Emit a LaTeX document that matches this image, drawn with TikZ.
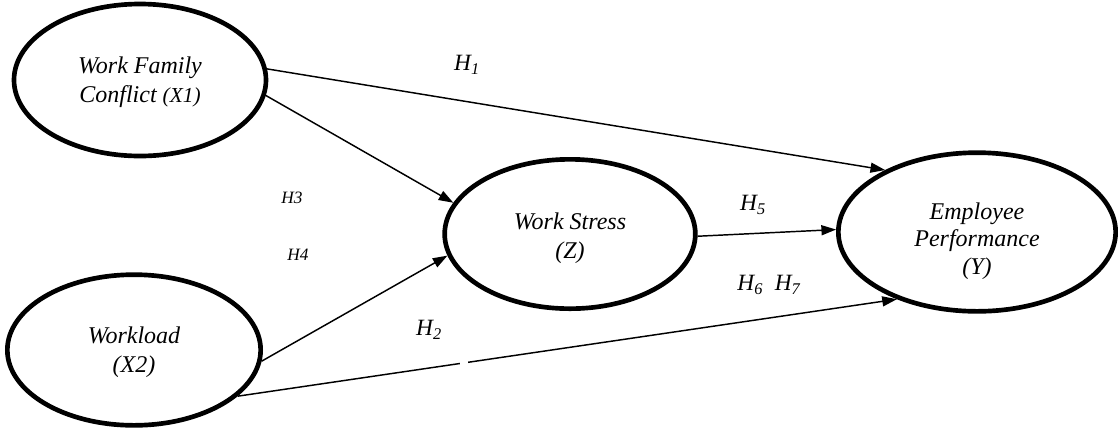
\documentclass[tikz,border=0pt]{standalone}
\usepackage{fontspec}
\setmainfont{Liberation Serif}
\usetikzlibrary{arrows.meta,shapes.geometric}
\newcommand{\hyp}[1]{\textit{H\textsubscript{#1}}}

\begin{document}
\begin{tikzpicture}[x=0.75pt,y=-0.75pt,>={Triangle[length=11pt,width=7.5pt]},
  latent/.style={ellipse,draw,line width=3.5pt},
  ltext/.style={align=center,font=\fontsize{18}{22}\selectfont\itshape},
  path/.style={->,line width=1.1pt},
  hlab/.style={font=\fontsize{17.5}{20}\selectfont},
  slab/.style={font=\fontsize{13}{15}\selectfont\itshape}]
\useasboundingbox (0,0) rectangle (1118,430);
\node[latent,minimum width=189pt,minimum height=114pt] (x1) at (140,80) {};
\node[latent,minimum width=190pt,minimum height=113pt] (x2) at (134,350) {};
\node[latent,minimum width=188pt,minimum height=112pt] (z) at (570,234) {};
\node[latent,minimum width=208pt,minimum height=119pt] (y) at (977,232) {};
\node[ltext] (x1t) at (140,82) {Work Family\\Conflict {\fontsize{16}{18}\selectfont(X1)}};
\node[ltext] (x2t) at (134,352) {Workload\\(X2)};
\node[ltext] (zt) at (570,238) {Work Stress\\(Z)};
\node[ltext,font=\fontsize{18}{20.5}\selectfont\itshape] (yt) at (977,241) {Employee\\Performance\\(Y)};
\draw[path] (x1.5) -- (y.146);
\draw[path] (x1.-7) -- (z.165);
\draw[path] (x2.-5) -- (z.-170);
\draw[path] (x2.-24) -- (y.220);
\draw[path] (z.-1) -- (y.179);
\fill[white] (460,357) rectangle (468,371);
\node[hlab] (h1) at (467,65) {\hyp{1}};
\node[slab] (h3) at (292,198) {H3};
\node[slab] (h4) at (298,255) {H4};
\node[hlab] (h5) at (753,205) {\hyp{5}};
\node[hlab] (h67) at (769,285) {\hyp{6}\ \ \hyp{7}};
\node[hlab] (h2) at (429,330) {\hyp{2}};
\end{tikzpicture}
\end{document}
